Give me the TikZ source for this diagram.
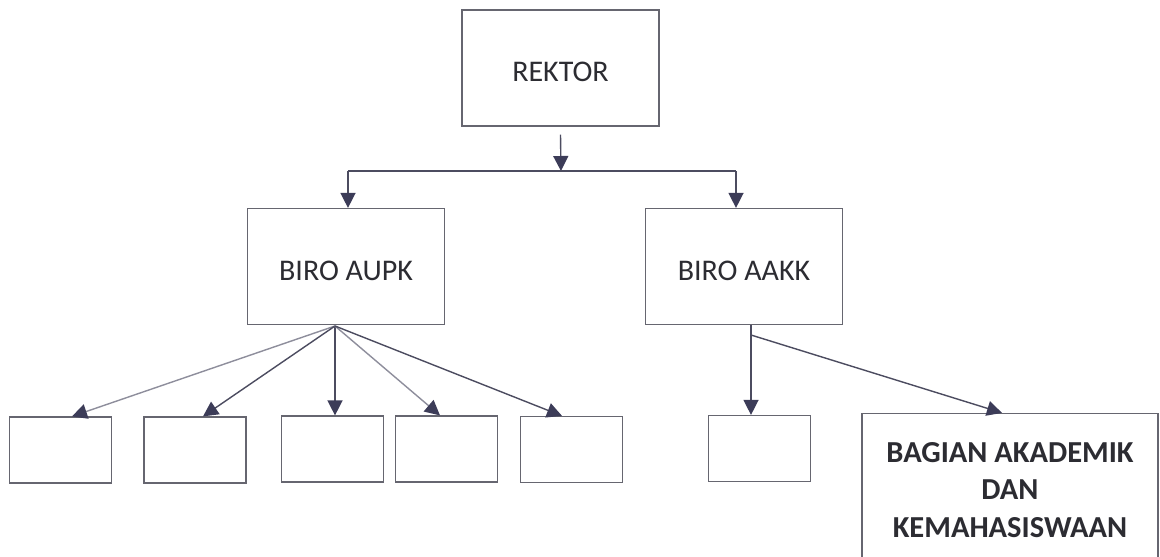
\documentclass[tikz,border=0pt]{standalone}
\usepackage{fontspec}
\setmainfont{Carlito}
\usetikzlibrary{arrows.meta}

\definecolor{boxline}{HTML}{666670}
\definecolor{wireline}{HTML}{4C4C60}
\definecolor{paleline}{HTML}{8E8E9C}
\definecolor{tipfill}{HTML}{3C3C58}
\definecolor{labeltext}{HTML}{2C2C32}

\begin{document}
\begin{tikzpicture}[x=1pt,y=-1pt,
  unit/.style={draw=boxline,line width=1.2pt,fill=white,inner sep=0pt,
    text=labeltext,font=\fontsize{30}{36}\selectfont},
  bigunit/.style={unit,minimum width=197pt,minimum height=116pt,
    text height=27pt,text depth=0pt},
  smallunit/.style={unit,minimum width=102pt,minimum height=66pt},
  wire/.style={draw=wireline,line width=1.4pt},
  link/.style={wire,-{Triangle[length=15pt,width=15pt,color=tipfill]}},
  palelink/.style={link,draw=paleline}
]
\clip (0,0) rectangle (1160,557);
\fill[white] (0,0) rectangle (1160,557);

% top level
\node[bigunit] (rektor) at (560.5,68) {REKTOR};

% bureaus
\node[bigunit] (aupk) at (346,266.5) {BIRO AUPK};
\node[bigunit] (aakk) at (744,266.5) {BIRO AAKK};

% units under BIRO AUPK
\node[smallunit] (c1) at (60.5,450) {};
\node[smallunit] (c2) at (195,450) {};
\node[smallunit] (c3) at (332.5,449) {};
\node[smallunit] (c4) at (446.5,449) {};
\node[smallunit] (c5) at (571.5,449.5) {};

% units under BIRO AAKK
\node[smallunit] (c6) at (759.5,448.5) {};
\node[unit,minimum width=296pt,minimum height=153pt,align=center,
  font=\bfseries\fontsize{30.5}{37.5}\selectfont] (bag) at (1010,490)
  {BAGIAN AKADEMIK\\DAN\\KEMAHASISWAAN};

% distribution bus below the rector
\coordinate (busL) at (348,171);
\coordinate (busM) at (561,171);
\coordinate (busR) at (736,171);
\draw[link] ([yshift=-8pt]rektor.south) -- (busM);
\draw[wire] (busL) -- (busR);
\draw[link] (busL) -- (aupk.north -| busL);
\draw[link] (busR) -- (aakk.north -| busR);

% fan-out from BIRO AUPK
\coordinate (fan) at (335,326);
\draw[palelink] (fan) -- ([xshift=11.5pt]c1.north);
\draw[link] (fan) -- ([xshift=8pt]c2.north);
\draw[link] (fan) -- ([xshift=2.5pt]c3.north);
\draw[palelink] (fan) -- ([xshift=-6.5pt]c4.north);
\draw[link] (fan) -- ([xshift=-9.5pt]c5.north);

% branches from BIRO AAKK
\coordinate (drop) at (751,325);
\coordinate (split) at (751,335);
\draw[link] (drop) -- ([xshift=-8.5pt]c6.north);
\draw[link] (split) -- ([xshift=-8pt]bag.north);
\end{tikzpicture}
\end{document}
